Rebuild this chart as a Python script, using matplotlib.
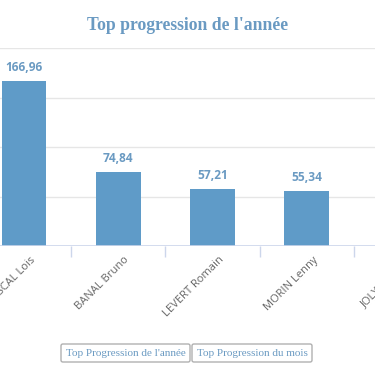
import matplotlib.pyplot as plt
from matplotlib.patches import FancyBboxPatch

# data
names = ['PASCAL Lois', 'BANAL Bruno', 'LEVERT Romain', 'MORIN Lenny', 'JOLY Thomas']
values = [166.96, 74.84, 57.21, 55.34, 52.10]
labels = ['166,96', '74,84', '57,21', '55,34', '52,10']
y_ticks = [0, 50, 100, 150, 200]

bar_color = '#5f9bc8'
text_blue = '#6a9ac2'
grid_color = '#e6e6e6'
axis_color = '#ccd6eb'

fig = plt.figure(figsize=(3.75, 3.66), dpi=100)
ax = fig.add_axes([0, 1 - 246 / 366, 1, 198 / 366])

x = list(range(len(names)))
ax.bar(x, values, width=0.477, color=bar_color, zorder=2)

# tick marks between categories
ax.set_xticks([i + 0.5 for i in range(-1, len(names))], minor=True)
ax.tick_params(axis='x', which='minor', length=8, color=axis_color, width=1)
ax.set_xticks([])
ax.set_yticks([])
for s in ax.spines.values():
    s.set_visible(False)

# the chart is scrolled: only part of the first and last category show
ax.set_xlim(-24 / 94.3, 351 / 94.3)
ax.set_ylim(0, 200)
for t in y_ticks[1:]:
    ax.axhline(t, color=grid_color, lw=1, zorder=1)
ax.axhline(0, color=axis_color, lw=1.2, zorder=3)

# category labels, drawn by hand so the cut ones still show
for xi, name in zip(x, names):
    ax.annotate(name, (xi, 0), xycoords=('data', 'axes fraction'),
                xytext=(4, -6), textcoords='offset points',
                rotation=45, ha='right', va='top', rotation_mode='anchor',
                fontsize=8, color='#666666', family='Open Sans',
                annotation_clip=False)

for xi, v, lab in zip(x, values, labels):
    ax.annotate(lab, (xi, v), xytext=(0, 5), textcoords='offset points',
                ha='center', va='bottom', color=text_blue, fontsize=8.6,
                fontweight='bold', family='Open Sans', annotation_clip=True)

fig.text(0.5, 1 - 25 / 366, "Top progression de l'année", ha='center', va='center',
         fontsize=12.7, fontweight='bold', color=text_blue, family='Liberation Serif')

# buttons below the chart
for x0, x1, txt in [(61, 190, "Top Progression de l'année"), (192, 312, 'Top Progression du mois')]:
    box = FancyBboxPatch((x0 / 375, 1 - 362 / 366), (x1 - x0) / 375, 18 / 366,
                         boxstyle='round,pad=0,rounding_size=0.005',
                         transform=fig.transFigure, fc='white', ec='#b0b0b0', lw=1)
    fig.add_artist(box)
    fig.text((x0 + x1) / 2 / 375, 1 - 353 / 366, txt, ha='center', va='center',
             fontsize=8, color=text_blue, family='Liberation Serif')

fig.savefig('out.png', dpi=100)
